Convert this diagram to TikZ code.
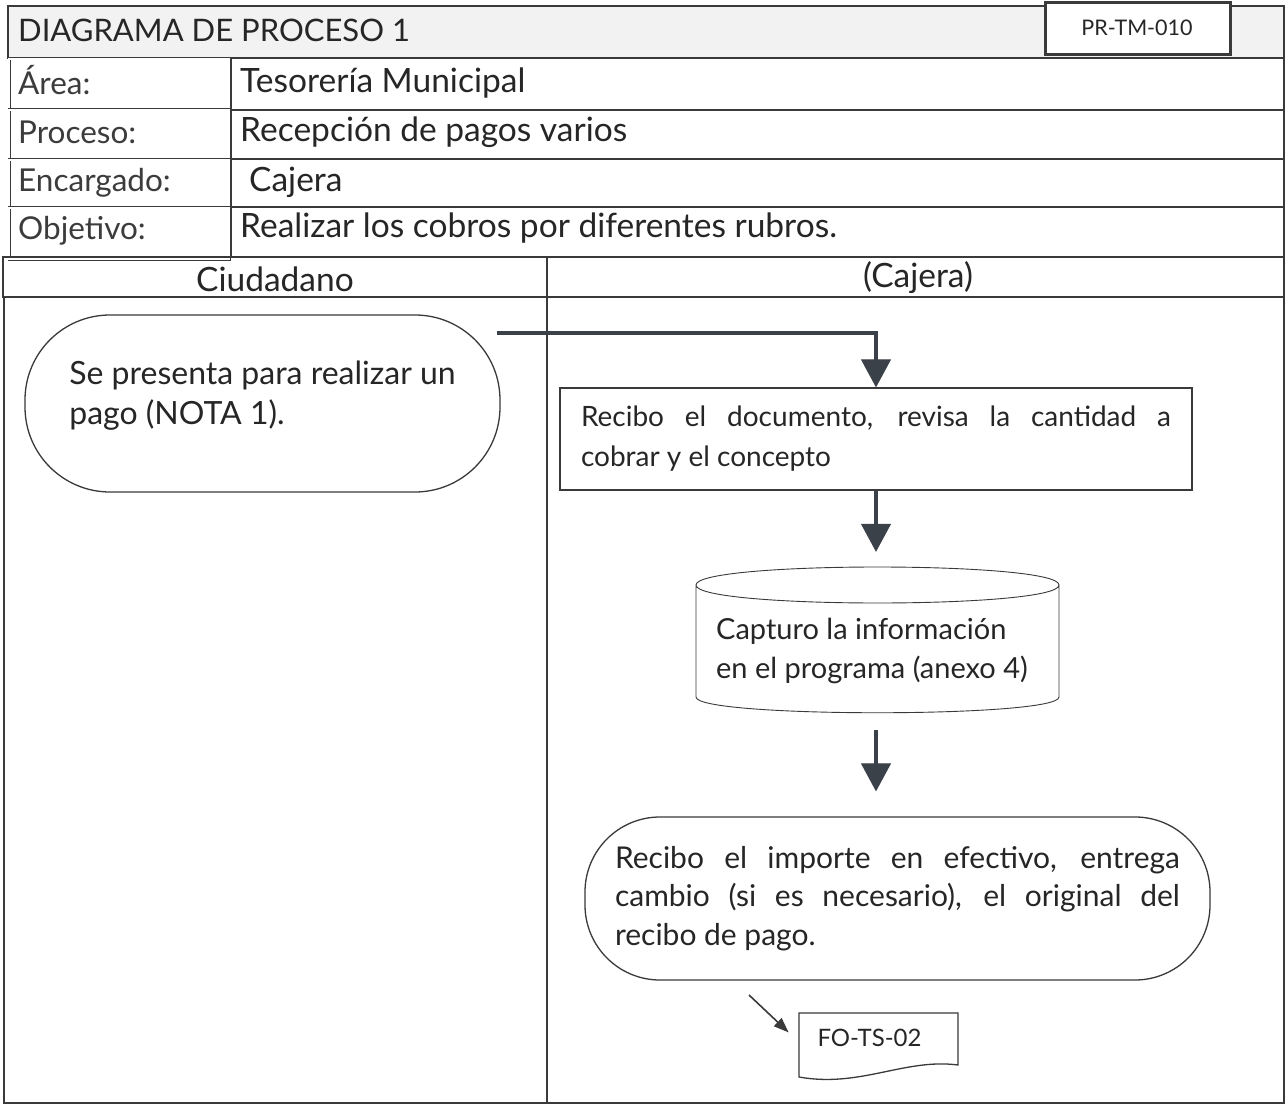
\documentclass[tikz,border=0pt]{standalone}
\usepackage{fontspec}
\setmainfont{Lato}
\usetikzlibrary{arrows.meta}
\definecolor{ink}{HTML}{262626}
\definecolor{rule}{HTML}{3A3A3A}
\definecolor{arrowfill}{HTML}{3B4148}
\definecolor{headbg}{HTML}{F2F2F2}

\begin{document}
\begin{tikzpicture}[x=1pt,y=-1pt,
  frame/.style={draw=rule, line width=1.1pt},
  labelcell/.style={draw=rule, double, double distance=1.6pt, line width=0.7pt},
  labeltext/.style={font=\fontsize{31.5}{36}\selectfont, text=ink!90, inner sep=0pt, anchor=base west},
  valuetext/.style={font=\fontsize{33.5}{38}\selectfont, text=ink, inner sep=0pt, anchor=base west},
  lanetext/.style={font=\fontsize{33.5}{38}\selectfont, text=ink, inner sep=0pt, anchor=base},
  term/.style={draw=rule, line width=1.3pt, text=ink},
  procbox/.style={draw=rule, line width=1.3pt, text=ink},
  flowarrow/.style={draw=arrowfill, line width=4.5pt,
    -{Triangle[width=30pt,length=28pt,line width=1pt,fill=arrowfill]}},
  thinarrow/.style={draw=rule, line width=1.6pt,
    -{Triangle[width=11pt,length=15pt]}}
]
\useasboundingbox (0,0) rectangle (1286,1105);
\fill[white] (0,0) rectangle (1286,1105);

% ---- title row ----
\draw[frame, fill=headbg] (8,6) rectangle (1284,58);
\node (title) [font=\fontsize{31}{36}\selectfont, text=ink, inner sep=0pt, anchor=base west]
  at (18,42) {DIAGRAMA DE PROCESO 1};
\draw[draw=rule, line width=3pt, fill=white] (1045,3) rectangle (1230,55);
\node (code) [font=\fontsize{21.5}{25}\selectfont, text=ink] at (1137,28) {PR-TM-010};

% ---- data rows ----
\draw[frame] (231,58) rectangle (1284,257);
\draw[frame] (231,110) -- (1284,110);
\draw[frame] (231,159) -- (1284,159);
\draw[frame] (231,207) -- (1284,207);
\draw[labelcell] (9,59) rectangle (229,110);
\draw[labelcell] (9,110) rectangle (229,160);
\draw[labelcell] (9,160) rectangle (229,208);
\draw[labelcell] (9,208) rectangle (229,259);

\node (larea) [labeltext] at (18,95) {Área:};
\node (lproc) [labeltext] at (18,144) {Proceso:};
\node (lenc)  [labeltext] at (18,192) {Encargado:};
\node (lobj)  [labeltext] at (18,240) {Objetivo:};

\node (varea) [valuetext] at (240,93) {Tesorería Municipal};
\node (vproc) [valuetext] at (240,142) {Recepción de pagos varios};
\node (venc)  [valuetext] at (249,192) {Cajera};
\node (vobj)  [valuetext] at (240,237) {Realizar los cobros por diferentes rubros.};

% ---- swimlanes ----
\draw[frame] (3,257) rectangle (1284,297);
\draw[frame] (4,297) -- (4,1103) -- (1284,1103) -- (1284,297);
\draw[frame] (547,257) -- (547,1103);
\node (lane1) [lanetext] at (275,291) {Ciudadano};
\node (lane2) [lanetext] at (918,287) {(Cajera)};

% ---- flow ----
\node (start) [term, font=\fontsize{32}{40}\selectfont, minimum width=475,
  minimum height=177, rounded corners=85pt, align=left] at (262.5,403.5)
  {Se presenta para realizar un\\pago (NOTA 1).\\[-18pt]};

\node (review) [procbox, font=\fontsize{28}{40}\selectfont, minimum width=632,
  minimum height=102, text width=590, align=justify] at (876,439)
  {Recibo el documento, revisa la cantidad a\linebreak cobrar y el concepto};

% database cylinder
\node (capture) [minimum width=363, minimum height=148] at (877.5,641) {};
\draw[draw=rule, line width=0.9pt]
  (696,585) .. controls (696,561) and (1059,561) .. (1059,585)
  .. controls (1059,609) and (696,609) .. (696,585)
  (696,585) -- (696,697) .. controls (696,718) and (1059,718) .. (1059,697)
  -- (1059,585);
\node (capturetext) [font=\fontsize{29}{39}\selectfont, text=ink, align=left]
  at (872,651) {Capturo la información\\en el programa (anexo 4)};

\node (pay) [term, font=\fontsize{30}{38.5}\selectfont, minimum width=625,
  minimum height=163, rounded corners=75pt, text width=565, align=justify]
  at (897.5,898.5)
  {Recibo el importe en efectivo, entrega\linebreak cambio (si es necesario), el original del\linebreak recibo de pago.};

% document symbol
\node (doc) [minimum width=159, minimum height=58, inner sep=0pt] at (878.5,1042) {};
\draw[draw=rule, line width=1.3pt]
  (799,1013) -- (958,1013) -- (958,1065)
  .. controls (905,1058) and (860,1088) .. (799,1077) -- cycle;
\node (doclabel) [font=\fontsize{24}{28}\selectfont, text=ink, anchor=west]
  at (814,1038) {FO-TS-02};

% connectors
\coordinate (startout) at (497,333);
\draw[flowarrow] (startout) -| (review.north);
\draw[flowarrow, shorten >=15pt] (review.south) -- (review.south |- capture.north);
\draw[flowarrow, shorten <=15pt, shorten >=25pt]
  (review.south |- capture.south) -- (review.south |- pay.north);
\coordinate (payout) at (749,995);
\draw[thinarrow, shorten >=14pt] (payout) -- (doc.west);
\end{tikzpicture}
\end{document}
